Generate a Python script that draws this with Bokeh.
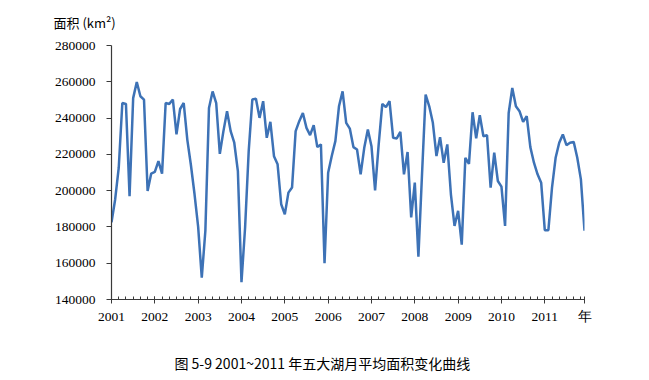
from bokeh.plotting import figure
from bokeh.models import Range1d, FixedTicker, NumeralTickFormatter, Title
from bokeh.embed import file_html
from bokeh.resources import INLINE

# Monthly mean area of the Five Great Lakes, Jan 2001 .. Dec 2011 (km2)
area_2001 = [182500, 195000, 212500, 248300, 247800, 197000, 251000, 259900, 252000, 250200, 199800, 209400]
area_2002 = [210300, 216300, 209400, 248300, 247800, 250200, 231000, 245000, 248300, 228000, 214000, 198000]
area_2003 = [180000, 152000, 178000, 245600, 254700, 248300, 220300, 232800, 243800, 232800, 226400, 210800]
area_2004 = [149500, 179700, 221800, 250200, 250700, 240100, 249300, 229100, 237900, 219000, 214500, 192500]
area_2005 = [187000, 198900, 201700, 232800, 238300, 242800, 234600, 230600, 236100, 224000, 225500, 160000]
area_2006 = [209900, 219100, 227300, 246500, 254700, 237400, 234200, 224000, 222700, 209000, 223600, 233700]
area_2007 = [224500, 200200, 225500, 247800, 246000, 249300, 229100, 228800, 232400, 209000, 221300, 185200]
area_2008 = [204400, 163600, 209000, 252900, 246500, 237400, 219100, 229500, 215400, 225500, 198000, 180600]
area_2009 = [188900, 170200, 218100, 214800, 243200, 228800, 241600, 230000, 230600, 201700, 220900, 205300]
area_2010 = [202200, 180600, 242800, 256600, 246500, 243800, 237900, 241000, 224000, 215400, 209000, 204400]
area_2011 = [178200, 178200, 201700, 218100, 226400, 231000, 225100, 226400, 226900, 218100, 206200, 177900]

years = ["2001", "2002", "2003", "2004", "2005", "2006", "2007", "2008", "2009", "2010", "2011"]
x_unit = "年"
y_title = "面积 (km²)"
caption = "图 5-9  2001~2011 年五大湖月平均面积变化曲线"
y_ticks = [140000, 160000, 180000, 200000, 220000, 240000, 260000, 280000]

area = (area_2001 + area_2002 + area_2003 + area_2004 + area_2005 + area_2006
        + area_2007 + area_2008 + area_2009 + area_2010 + area_2011)
month_index = list(range(len(area)))

p = figure(width=641, height=380, output_backend="svg", toolbar_location=None,
           x_range=Range1d(0, len(area) - 1), y_range=Range1d(y_ticks[0], y_ticks[-1]),
           min_border_left=111, min_border_right=57, min_border_top=44, min_border_bottom=81)
p.outline_line_color = None
p.xgrid.visible = False
p.ygrid.visible = False
p.background_fill_color = "white"
p.border_fill_color = "white"

p.line(month_index, area, line_color="#3d72b6", line_width=2.5)

axis_col = "#3a3a3a"
serif = "Liberation Serif"
cjk = "Noto Sans CJK SC"

# x axis: a label per year, plus the unit at the end of the axis
year_pos = [12 * k for k in range(len(years))]
end_pos = len(area) - 1
overrides = {pos: lab for pos, lab in zip(year_pos, years)}
overrides[end_pos] = x_unit
p.xaxis.ticker = FixedTicker(ticks=year_pos + [end_pos],
                             minor_ticks=list(range(0, len(area), 2)))
p.xaxis.major_label_overrides = overrides
p.xaxis.axis_line_color = axis_col
p.xaxis.axis_line_width = 1.2
p.xaxis.major_tick_line_color = axis_col
p.xaxis.minor_tick_line_color = axis_col
p.xaxis.major_tick_in = 3
p.xaxis.major_tick_out = 4
p.xaxis.minor_tick_in = 3
p.xaxis.minor_tick_out = 0
p.xaxis.major_label_standoff = 5
p.xaxis.major_label_text_font = serif
p.xaxis.major_label_text_font_size = "13.5px"
p.xaxis.major_label_text_color = "black"

# caption as the x-axis label; ideographic spaces shift it left of the axis centre
p.xaxis.axis_label = caption + "\u3000\u3000\u3000\u00a0\u00a0"
p.xaxis.axis_label_text_font = cjk
p.xaxis.axis_label_text_font_size = "14px"
p.xaxis.axis_label_text_font_style = "normal"
p.xaxis.axis_label_text_color = "black"
p.xaxis.axis_label_standoff = 26

# y axis
p.yaxis.ticker = FixedTicker(ticks=y_ticks)
p.yaxis.formatter = NumeralTickFormatter(format="0")
p.yaxis.axis_line_color = axis_col
p.yaxis.axis_line_width = 1.2
p.yaxis.major_tick_line_color = axis_col
p.yaxis.major_tick_in = 0
p.yaxis.major_tick_out = 5
p.yaxis.minor_tick_line_color = None
p.yaxis.major_label_standoff = 11
p.yaxis.major_label_text_font = serif
p.yaxis.major_label_text_font_size = "13.5px"
p.yaxis.major_label_text_color = "black"

# y-axis title, above the frame and shifted left over the tick labels
p.add_layout(Title(text=y_title, align="left", offset=-58, vertical_align="top",
                   text_font=cjk, text_font_size="13px", text_font_style="normal",
                   text_color="black", standoff=24), "above")

open("out.html", "w").write(file_html(p, INLINE))
